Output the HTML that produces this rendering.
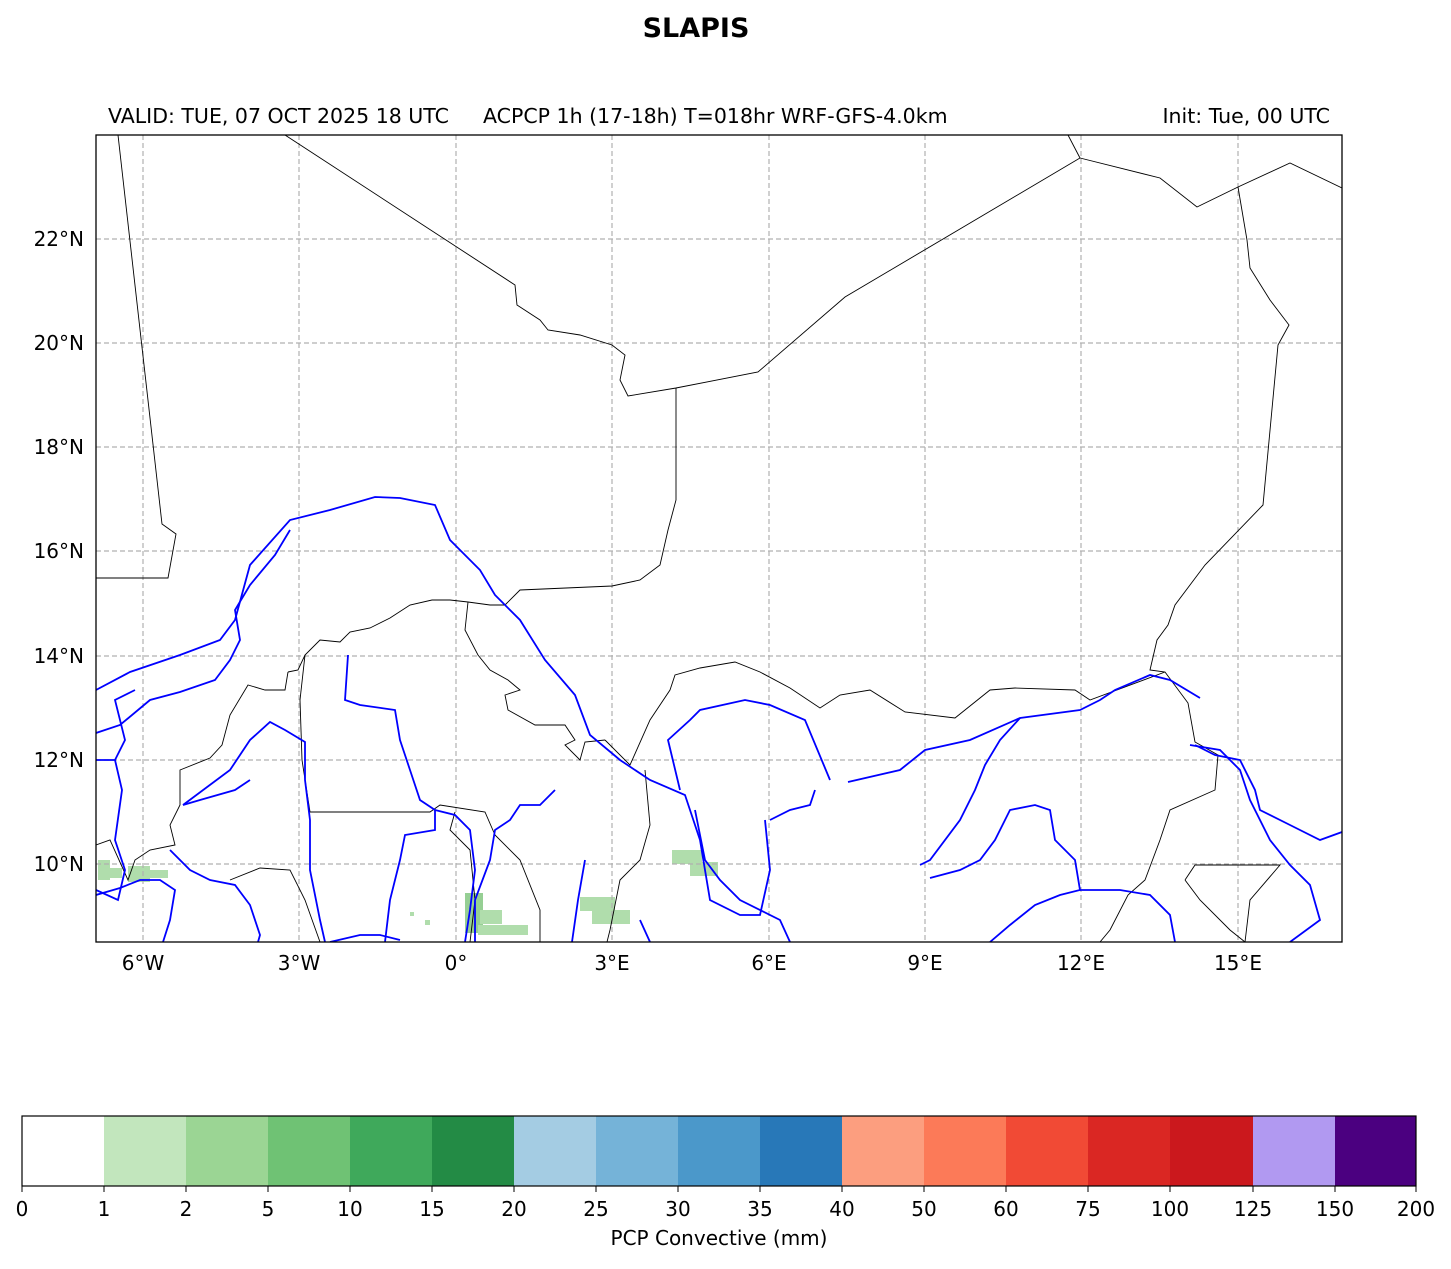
<!DOCTYPE html>
<html><head><meta charset="utf-8"><style>
body{margin:0;background:#fff;}
svg text{font-family:"DejaVu Sans","Liberation Sans",sans-serif;}
</style></head><body>
<svg width="1451" height="1264" viewBox="0 0 1451 1264" xmlns="http://www.w3.org/2000/svg">
<rect width="1451" height="1264" fill="#fff"/>
<text x="696" y="37" font-size="27" font-weight="bold" text-anchor="middle">SLAPIS</text>
<text x="108" y="123" font-size="20.5">VALID: TUE, 07 OCT 2025 18 UTC</text>
<text x="483" y="123" font-size="20.5">ACPCP 1h (17-18h) T=018hr WRF-GFS-4.0km</text>
<text x="1330" y="123" font-size="20.5" text-anchor="end">Init: Tue, 00 UTC</text>
<defs><clipPath id="c"><rect x="96" y="135" width="1246" height="807"/></clipPath></defs>
<g clip-path="url(#c)">
<g fill="#9dd598" opacity="0.8">
<rect x="98" y="860" width="12" height="20"/><rect x="108" y="868" width="14" height="10"/><rect x="128" y="866" width="22" height="16"/><rect x="150" y="870" width="18" height="8"/>
<rect x="465" y="893" width="18" height="40" fill="#7cc47a"/><rect x="480" y="910" width="22" height="14"/><rect x="478" y="925" width="50" height="10"/><rect x="410" y="912" width="4" height="4"/><rect x="425" y="920" width="5" height="5"/>
<rect x="580" y="897" width="35" height="14"/><rect x="592" y="910" width="38" height="14"/>
<rect x="672" y="850" width="30" height="14"/><rect x="690" y="862" width="28" height="14"/>
</g>
<g stroke="#b0b0b0" stroke-width="1.2" stroke-dasharray="5,3">
<line x1="143" y1="135" x2="143" y2="942"/><line x1="299" y1="135" x2="299" y2="942"/><line x1="456" y1="135" x2="456" y2="942"/><line x1="612" y1="135" x2="612" y2="942"/><line x1="769" y1="135" x2="769" y2="942"/><line x1="925" y1="135" x2="925" y2="942"/><line x1="1081" y1="135" x2="1081" y2="942"/><line x1="1238" y1="135" x2="1238" y2="942"/>
<line x1="96" y1="239" x2="1342" y2="239"/><line x1="96" y1="343" x2="1342" y2="343"/><line x1="96" y1="447" x2="1342" y2="447"/><line x1="96" y1="551" x2="1342" y2="551"/><line x1="96" y1="656" x2="1342" y2="656"/><line x1="96" y1="760" x2="1342" y2="760"/><line x1="96" y1="864" x2="1342" y2="864"/>
</g>
<g fill="none" stroke="#000" stroke-width="0.9">
<polyline points="118,135 162,524 176,534 168,578 96,578"/>
<polyline points="285,135 515,285 517,305 540,320 548,330 580,335 612,345 625,355 620,380 628,396 676,388 758,372 845,297 1080,158 1068,135"/>
<polyline points="1080,158 1160,178 1197,207 1238,187 1290,163 1342,188"/>
<polyline points="1238,187 1247,240 1250,268 1270,300 1289,325 1278,345 1263,505 1205,565 1175,605 1168,625 1157,640 1150,670 1165,672 1188,703 1195,742 1218,755 1215,790 1170,810 1160,840 1145,880 1128,895 1110,930 1100,942"/>
<polyline points="676,388 676,500 668,530 660,565 640,580 612,586 520,590 505,605 490,605 468,602 450,600 432,600 410,605 390,618 370,628 350,632 340,642 320,640 305,655 298,670 288,672"/>
<polyline points="468,602 465,630 478,655 490,670 508,680 520,690 505,695 508,710 535,725 565,725 575,740 565,745 580,760 585,742 605,740"/>
<polyline points="605,740 630,765 650,720 670,690 675,675 700,668 735,662 760,672 790,688 820,708 840,695 870,690 905,712 955,718 990,690 1015,688 1075,690 1090,700 1165,672"/>
<polyline points="645,770 650,825 640,860 620,880 610,930 607,942"/>
<polyline points="288,672 285,690 265,690 248,685 230,715 222,745 210,758 180,770 180,805 170,825 175,845 150,850 135,860 128,880 110,840 96,845"/>
<polyline points="310,812 400,812 430,812 440,805 485,812 495,835 520,860 540,910 540,942"/>
<polyline points="455,812 450,830 470,850 475,900 470,942"/>
<polyline points="305,655 300,700 302,760 310,812"/>
<polyline points="230,880 260,868 290,870 305,900 320,942"/>
<polyline points="1185,880 1195,865 1280,865 1250,900 1245,942"/>
<polyline points="1185,880 1200,900 1230,930 1245,942"/>
</g>
<g fill="none" stroke="#0000ff" stroke-width="1.8">
<polyline points="96,690 130,672 180,655 220,640 235,620 250,565 290,520 330,510 375,497 400,498 435,505 450,540 480,570 495,595 520,620 545,660 575,695 590,735 620,760 650,780 685,795 700,840 710,900 740,915 760,915 770,870 765,820"/>
<polyline points="96,733 120,725 150,700 180,692 215,680 230,660 240,640 235,610 250,585 275,555 290,530"/>
<polyline points="96,760 115,760 125,740 115,700 135,690"/>
<polyline points="115,760 122,790 115,840 125,870 118,900 96,890"/>
<polyline points="183,805 230,770 250,740 270,722 285,730 305,742 305,780 310,820 310,870 320,920 325,942"/>
<polyline points="183,805 200,800 235,790 250,780"/>
<polyline points="348,655 345,700 360,705 395,710 400,740 410,770 420,800 435,810 435,830 405,835 400,860 390,900 385,942"/>
<polyline points="96,895 120,888 140,880 160,880 175,890 170,920 163,942"/>
<polyline points="170,850 190,870 210,880 235,885 250,905 260,935 258,942"/>
<polyline points="330,942 360,935 380,935 400,940"/>
<polyline points="435,810 455,815 470,830 475,870 470,910 465,942"/>
<polyline points="555,790 540,805 520,805 510,820 495,830 490,860 475,900 475,942"/>
<polyline points="585,860 578,900 572,942"/>
<polyline points="640,920 650,942"/>
<polyline points="695,810 705,860 720,880 740,900 780,920 790,942"/>
<polyline points="830,780 805,720 770,705 745,700 700,710 690,720 668,740 680,790"/>
<polyline points="815,790 810,805 790,810 770,820"/>
<polyline points="848,782 900,770 925,750 970,740 1020,718 1080,710 1100,700 1115,690 1150,675 1170,680 1200,698"/>
<polyline points="1195,745 1215,755 1240,760 1255,790 1260,810 1290,825 1320,840 1342,832"/>
<polyline points="1190,745 1220,750 1240,770 1250,800 1270,840 1290,865 1310,885 1320,920 1290,942"/>
<polyline points="1020,718 1000,740 985,765 975,790 960,820 930,860 920,865"/>
<polyline points="930,878 960,870 980,860 995,840 1010,810 1035,805 1050,810 1055,840 1075,860 1080,890 1060,895 1035,905 1010,925 990,942"/>
<polyline points="1080,890 1120,890 1150,895 1170,915 1175,942"/>
</g>
</g>
<rect x="96" y="135" width="1246" height="807" fill="none" stroke="#000" stroke-width="1.3"/>
<g font-size="20" text-anchor="end">
<text x="84" y="246">22°N</text><text x="84" y="350">20°N</text><text x="84" y="454">18°N</text><text x="84" y="558">16°N</text><text x="84" y="663">14°N</text><text x="84" y="767">12°N</text><text x="84" y="871">10°N</text>
</g>
<g font-size="20" text-anchor="middle">
<text x="143" y="970">6°W</text><text x="299" y="970">3°W</text><text x="456" y="970">0°</text><text x="612" y="970">3°E</text><text x="769" y="970">6°E</text><text x="925" y="970">9°E</text><text x="1081" y="970">12°E</text><text x="1238" y="970">15°E</text>
</g>
<g>
<rect x="22" y="1116" width="82" height="70" fill="#ffffff"/>
<rect x="104" y="1116" width="82" height="70" fill="#c2e6bd"/>
<rect x="186" y="1116" width="82" height="70" fill="#9bd594"/>
<rect x="268" y="1116" width="82" height="70" fill="#6fc274"/>
<rect x="350" y="1116" width="82" height="70" fill="#3fa95b"/>
<rect x="432" y="1116" width="82" height="70" fill="#238b45"/>
<rect x="514" y="1116" width="82" height="70" fill="#a4cce3"/>
<rect x="596" y="1116" width="82" height="70" fill="#75b3d8"/>
<rect x="678" y="1116" width="82" height="70" fill="#4b98ca"/>
<rect x="760" y="1116" width="82" height="70" fill="#2878b8"/>
<rect x="842" y="1116" width="82" height="70" fill="#fc9e7f"/>
<rect x="924" y="1116" width="82" height="70" fill="#fc7a58"/>
<rect x="1006" y="1116" width="82" height="70" fill="#f14a35"/>
<rect x="1088" y="1116" width="82" height="70" fill="#da2723"/>
<rect x="1170" y="1116" width="83" height="70" fill="#cb181d"/>
<rect x="1253" y="1116" width="82" height="70" fill="#b199f1"/>
<rect x="1335" y="1116" width="81" height="70" fill="#4b0080"/>
<rect x="22" y="1116" width="1394" height="70" fill="none" stroke="#000" stroke-width="1.2"/>
</g>
<g stroke="#000" stroke-width="1">
<line x1="22" y1="1186" x2="22" y2="1192"/><line x1="104" y1="1186" x2="104" y2="1192"/><line x1="186" y1="1186" x2="186" y2="1192"/><line x1="268" y1="1186" x2="268" y2="1192"/><line x1="350" y1="1186" x2="350" y2="1192"/><line x1="432" y1="1186" x2="432" y2="1192"/><line x1="514" y1="1186" x2="514" y2="1192"/><line x1="596" y1="1186" x2="596" y2="1192"/><line x1="678" y1="1186" x2="678" y2="1192"/><line x1="760" y1="1186" x2="760" y2="1192"/><line x1="842" y1="1186" x2="842" y2="1192"/><line x1="924" y1="1186" x2="924" y2="1192"/><line x1="1006" y1="1186" x2="1006" y2="1192"/><line x1="1088" y1="1186" x2="1088" y2="1192"/><line x1="1170" y1="1186" x2="1170" y2="1192"/><line x1="1253" y1="1186" x2="1253" y2="1192"/><line x1="1335" y1="1186" x2="1335" y2="1192"/><line x1="1416" y1="1186" x2="1416" y2="1192"/>
</g>
<g font-size="20" text-anchor="middle">
<text x="22" y="1216">0</text><text x="104" y="1216">1</text><text x="186" y="1216">2</text><text x="268" y="1216">5</text><text x="350" y="1216">10</text><text x="432" y="1216">15</text><text x="514" y="1216">20</text><text x="596" y="1216">25</text><text x="678" y="1216">30</text><text x="760" y="1216">35</text><text x="842" y="1216">40</text><text x="924" y="1216">50</text><text x="1006" y="1216">60</text><text x="1088" y="1216">75</text><text x="1170" y="1216">100</text><text x="1253" y="1216">125</text><text x="1335" y="1216">150</text><text x="1416" y="1216">200</text>
<text x="719" y="1245">PCP Convective (mm)</text>
</g>
</svg>
</body></html>
